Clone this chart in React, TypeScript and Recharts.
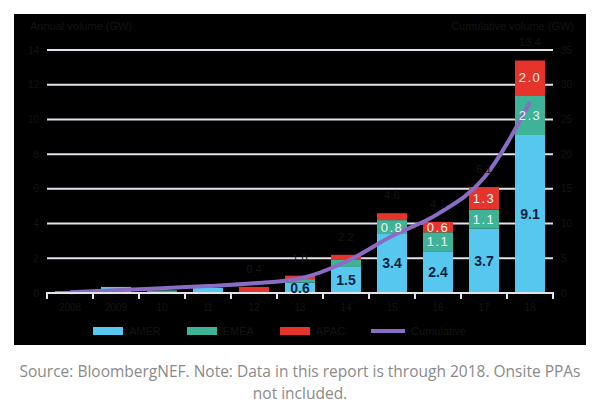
import { Bar, CartesianGrid, ComposedChart, LabelList, Line, XAxis, YAxis } from "recharts";

const years = ["2008", "2009", "10", "11", "12", "13", "14", "15", "16", "17", "18"];
const amer = [0.1, 0.35, 0.1, 0.3, 0.05, 0.6, 1.5, 3.4, 2.4, 3.7, 9.1];
const emea = [0, 0, 0.05, 0, 0.05, 0.2, 0.4, 0.8, 1.1, 1.1, 2.3];
const apac = [0, 0, 0, 0, 0.25, 0.2, 0.3, 0.4, 0.6, 1.3, 2.0];
const cumulative = [0.1, 0.4, 0.7, 1.0, 1.4, 2.1, 4.5, 8.2, 11.4, 16.6, 27.5];
const totals = ["0.1", "0.3", "0.1", "0.3", "0.4", "1.0", "2.2", "4.6", "4.1", "6.1", "13.4"];
const amerLabels = ["", "", "", "", "", "0.6", "1.5", "3.4", "2.4", "3.7", "9.1"];
const emeaLabels = ["", "", "", "", "", "", "", "0.8", "1.1", "1.1", "2.3"];
const apacLabels = ["", "", "", "", "", "", "", "", "0.6", "1.3", "2.0"];
const leftTicks = [0, 2, 4, 6, 8, 10, 12, 14];
const rightTicks = [0, 5, 10, 15, 20, 25, 30, 35];

const data = years.map((year, i) => ({
  year,
  amer: amer[i],
  emea: emea[i],
  apac: apac[i],
  cumulative: cumulative[i],
  total: totals[i],
  amerLabel: amerLabels[i],
  emeaLabel: emeaLabels[i],
  apacLabel: apacLabels[i],
}));

const BLUE = "#56c8ef";
const TEAL = "#3fb397";
const RED = "#e5342b";
const PURPLE = "#8a6cc4";
const DIM = "#141414";
const GRID = "#e2e2ea";

const legendItems = [
  { name: "AMER", color: BLUE, line: false },
  { name: "EMEA", color: TEAL, line: false },
  { name: "APAC", color: RED, line: false },
  { name: "Cumulative", color: PURPLE, line: true },
];

// year label, with the tick marks on the band edges rather than the centre
function YearTick(props: any) {
  const { x, y, payload, width, visibleTicksCount, index } = props;
  const bw = width / visibleTicksCount;
  const last = index === visibleTicksCount - 1;
  return (
    <g>
      <path d={`M${x - bw / 2},${y - 9}v7`} stroke={GRID} strokeWidth={2} fill="none" />
      {last && <path d={`M${x + bw / 2},${y - 9}v7`} stroke={GRID} strokeWidth={2} fill="none" />}
      <text x={x} y={y + 10} textAnchor="middle" fill={DIM} fontSize={10}>
        {payload.value}
      </text>
    </g>
  );
}

export default function App() {
  return (
    <div style={{ position: "absolute", left: 0, top: 0, width: 600, height: 409, background: "#fff" }}>
      <div style={{ position: "absolute", left: 14, top: 14, width: 572, height: 331, background: "#000", fontFamily: "Liberation Sans, Arial, sans-serif" }}>
        <div style={{ position: "absolute", left: 16, top: 6, fontSize: 11, color: DIM }}>Annual volume (GW)</div>
        <div style={{ position: "absolute", right: 12, top: 6, fontSize: 11, color: DIM }}>Cumulative volume (GW)</div>
        <ComposedChart
          width={572}
          height={310}
          data={data}
          margin={{ top: 36, right: 0, bottom: 3, left: 0 }}
        >
          <CartesianGrid vertical={false} stroke={GRID} strokeWidth={2} xAxisId="b" yAxisId="left" />
          <XAxis
            xAxisId="b"
            dataKey="year"
            stroke={GRID}
            strokeWidth={2}
            tickLine={false}
            height={28}
            tick={<YearTick />}
            interval={0}
          />
          <YAxis
            yAxisId="left"
            domain={[0, 14]}
            ticks={leftTicks}
            width={33}
            axisLine={false}
            tickLine={false}
            tick={{ fill: DIM, fontSize: 10 }}
          />
          <YAxis
            yAxisId="right"
            orientation="right"
            domain={[0, 35]}
            ticks={rightTicks}
            width={33}
            axisLine={false}
            tickLine={false}
            tick={{ fill: DIM, fontSize: 10 }}
          />
          <Bar dataKey="amer" stackId="v" xAxisId="b" yAxisId="left" fill={BLUE} barSize={30} isAnimationActive={false}>
            <LabelList dataKey="amerLabel" position="center" fill="#0b1f3d" fontSize={14} fontWeight="bold" />
          </Bar>
          <Bar dataKey="emea" stackId="v" xAxisId="b" yAxisId="left" fill={TEAL} barSize={30} isAnimationActive={false}>
            <LabelList dataKey="emeaLabel" position="center" fill="#f4f4f4" fontSize={13} letterSpacing={1.5} />
          </Bar>
          <Bar dataKey="apac" stackId="v" xAxisId="b" yAxisId="left" fill={RED} barSize={30} isAnimationActive={false}>
            <LabelList dataKey="apacLabel" position="center" fill="#f4f4f4" fontSize={13} letterSpacing={1.5} />
            <LabelList dataKey="total" position="top" offset={14} fill={DIM} fontSize={11} />
          </Bar>
          <Line
            dataKey="cumulative"
            xAxisId="b"
            yAxisId="right"
            type="monotone"
            stroke={PURPLE}
            strokeWidth={4}
            dot={false}
            isAnimationActive={false}
          />
        </ComposedChart>
        <div style={{ position: "absolute", left: 79, top: 311, display: "flex", gap: 26, fontSize: 11, color: DIM }}>
          {legendItems.map((it) => (
            <div key={it.name} style={{ display: "flex", alignItems: "center", gap: 6 }}>
              {it.line ? (
                <span style={{ display: "inline-block", width: 34, height: 4, background: it.color }} />
              ) : (
                <span style={{ display: "inline-block", width: 30, height: 8, background: it.color }} />
              )}
              <span>{it.name}</span>
            </div>
          ))}
        </div>
      </div>
      <div
        style={{
          position: "absolute",
          left: 0,
          top: 360,
          width: 600,
          textAlign: "center",
          fontFamily: "Open Sans, sans-serif",
          fontSize: 15.5,
          lineHeight: "22px",
          color: "#8a8a8a",
        }}
      >
        Source: BloombergNEF. Note: Data in this report is through 2018. Onsite PPAs
        <br />
        not included.
      </div>
    </div>
  );
}
